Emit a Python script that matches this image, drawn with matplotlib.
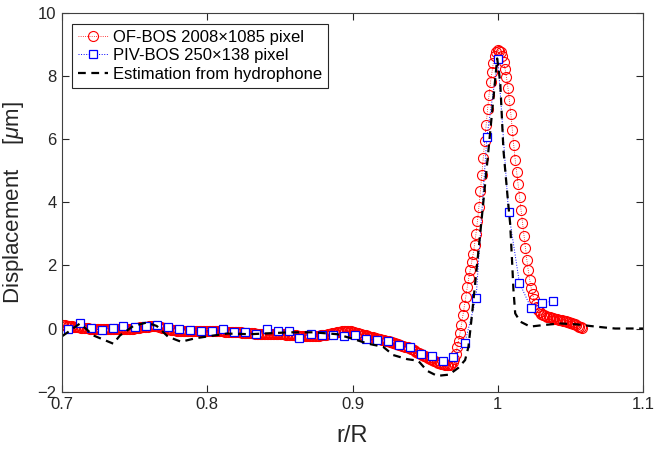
import numpy as np
import matplotlib
matplotlib.use('Agg')
from matplotlib import pyplot as plt

plt.rcParams['font.family'] = ['Liberation Sans', 'DejaVu Sans']
plt.rcParams['mathtext.fontset'] = 'custom'
plt.rcParams['mathtext.rm'] = 'Liberation Sans'
plt.rcParams['mathtext.it'] = 'Liberation Sans:italic'

# OF-BOS (2008x1085 px), sampled every 0.001 in r/R from 0.700 to 1.058
of_r = np.round(np.arange(0.700, 1.0585, 0.001), 3)
of_disp = [
    0.11, 0.10, 0.10, 0.09, 0.09, 0.08, 0.08, 0.07, 0.06, 0.05,
    0.05, 0.04, 0.04, 0.03, 0.03, 0.02, 0.02, 0.01, 0.01, 0.00,
    0.00, 0.00, -0.01, -0.01, -0.01, -0.01, -0.02, -0.02, -0.02, -0.02,
    -0.02, -0.03, -0.03, -0.03, -0.03, -0.03, -0.03, -0.03, -0.03, -0.03,
    -0.03, -0.03, -0.02, -0.02, -0.02, -0.02, -0.01, -0.01, 0.00, 0.00,
    0.01, 0.02, 0.02, 0.03, 0.04, 0.04, 0.05, 0.05, 0.06, 0.06,
    0.07, 0.07, 0.08, 0.08, 0.08, 0.08, 0.07, 0.06, 0.05, 0.03,
    0.02, 0.01, -0.01, -0.02, -0.03, -0.04, -0.05, -0.06, -0.06, -0.07,
    -0.07, -0.07, -0.07, -0.07, -0.07, -0.07, -0.07, -0.07, -0.07, -0.07,
    -0.07, -0.07, -0.07, -0.07, -0.08, -0.08, -0.08, -0.08, -0.08, -0.08,
    -0.08, -0.08, -0.08, -0.09, -0.09, -0.09, -0.09, -0.09, -0.09, -0.09,
    -0.09, -0.09, -0.10, -0.10, -0.10, -0.10, -0.10, -0.11, -0.11, -0.11,
    -0.11, -0.11, -0.12, -0.12, -0.13, -0.13, -0.13, -0.14, -0.14, -0.15,
    -0.15, -0.15, -0.15, -0.16, -0.16, -0.16, -0.16, -0.17, -0.17, -0.17,
    -0.17, -0.17, -0.17, -0.17, -0.17, -0.17, -0.17, -0.17, -0.17, -0.17,
    -0.17, -0.17, -0.18, -0.18, -0.19, -0.19, -0.20, -0.20, -0.21, -0.21,
    -0.22, -0.22, -0.23, -0.23, -0.24, -0.24, -0.24, -0.25, -0.25, -0.25,
    -0.25, -0.25, -0.25, -0.24, -0.24, -0.24, -0.23, -0.23, -0.22, -0.22,
    -0.21, -0.20, -0.19, -0.18, -0.17, -0.16, -0.15, -0.14, -0.13, -0.12,
    -0.12, -0.11, -0.10, -0.09, -0.08, -0.08, -0.07, -0.07, -0.08, -0.09,
    -0.10, -0.11, -0.13, -0.14, -0.15, -0.17, -0.18, -0.20, -0.21, -0.22,
    -0.24, -0.25, -0.26, -0.27, -0.28, -0.29, -0.30, -0.32, -0.33, -0.34,
    -0.35, -0.36, -0.37, -0.38, -0.40, -0.41, -0.42, -0.44, -0.45, -0.47,
    -0.48, -0.49, -0.51, -0.52, -0.54, -0.55, -0.57, -0.59, -0.60, -0.62,
    -0.64, -0.66, -0.69, -0.71, -0.74, -0.76, -0.78, -0.81, -0.83, -0.86,
    -0.88, -0.90, -0.93, -0.95, -0.98, -1.00, -1.02, -1.04, -1.06, -1.08,
    -1.10, -1.11, -1.12, -1.13, -1.14, -1.15, -1.15, -1.14, -1.12, -1.05,
    -0.95, -0.80, -0.60, -0.38, -0.15, 0.12, 0.42, 0.70, 1.00, 1.30,
    1.60, 1.85, 2.10, 2.35, 2.65, 3.00, 3.40, 3.85, 4.35, 4.85,
    5.40, 5.95, 6.45, 6.95, 7.40, 7.80, 8.12, 8.42, 8.63, 8.77,
    8.82, 8.80, 8.74, 8.62, 8.45, 8.22, 7.95, 7.62, 7.22, 6.80,
    6.30, 5.80, 5.35, 4.95, 4.57, 4.17, 3.75, 3.33, 2.92, 2.55,
    2.18, 1.84, 1.54, 1.28, 1.08, 0.92, 0.78, 0.67, 0.58, 0.52,
    0.47, 0.44, 0.42, 0.40, 0.38, 0.36, 0.35, 0.33, 0.32, 0.31,
    0.30, 0.29, 0.28, 0.27, 0.26, 0.25, 0.24, 0.23, 0.22, 0.21,
    0.19, 0.17, 0.15, 0.13, 0.11, 0.09, 0.06, 0.04, 0.01,
]

# PIV-BOS (250x138 px)
piv_r = [0.7043, 0.7124, 0.7198, 0.7273, 0.7349, 0.7422, 0.7501, 0.7576, 0.7652, 0.7728,
         0.7804, 0.7879, 0.7955, 0.8031, 0.8107, 0.8183, 0.8260, 0.8334, 0.8410, 0.8486,
         0.8561, 0.8634, 0.8713, 0.8789, 0.8864, 0.8940, 0.9016, 0.9092, 0.9167, 0.9243,
         0.9319, 0.9395, 0.9470, 0.9548, 0.9626, 0.9695, 0.9773, 0.9851, 0.9925, 1.0001,
         1.0074, 1.0149, 1.0228, 1.0304, 1.0377]
piv_disp = [0.00, 0.16, 0.01, -0.05, 0.03, 0.07, 0.04, 0.07, 0.10, 0.05,
            0.00, -0.05, -0.07, -0.07, -0.03, -0.12, -0.12, -0.18, -0.03, -0.07,
            -0.07, -0.30, -0.16, -0.21, -0.21, -0.23, -0.21, -0.33, -0.36, -0.41,
            -0.53, -0.60, -0.82, -0.88, -1.04, -0.91, -0.46, 0.97, 6.07, 8.52,
            3.70, 1.45, 0.66, 0.80, 0.87]

# estimation from hydrophone
hyd_r = [0.7002, 0.7124, 0.7216, 0.7353, 0.7399, 0.7491, 0.7583, 0.7652, 0.7730, 0.7820,
         0.7916, 0.8019, 0.8136, 0.8295, 0.8432, 0.8570, 0.8729, 0.8894, 0.8983, 0.9107,
         0.9211, 0.9280, 0.9376, 0.9452, 0.9514, 0.9583, 0.9665, 0.9727, 0.9775, 0.9798,
         0.9821, 0.9879, 0.9936, 0.9996, 1.0017, 1.0039, 1.0067, 1.0085, 1.0097, 1.0108,
         1.0120, 1.0154, 1.0223, 1.0315, 1.0430, 1.0547, 1.0636, 1.0740, 1.0808, 1.1000]
hyd_disp = [-0.24, 0.16, -0.22, -0.48, -0.22, 0.08, 0.19, 0.08, -0.26, -0.42,
            -0.31, -0.24, -0.16, -0.18, -0.15, -0.12, -0.12, -0.18, -0.30, -0.48,
            -0.58, -0.84, -0.97, -1.02, -1.34, -1.50, -1.46, -1.25, -1.00, -0.58,
            0.37, 3.00, 5.65, 8.55, 7.80, 5.65, 4.20, 3.33, 2.27, 1.22,
            0.48, 0.22, 0.06, 0.11, 0.16, 0.13, 0.08, 0.03, 0.00, 0.00]

xticks = [0.7, 0.8, 0.9, 1.0, 1.1]
xtick_labels = ['0.7', '0.8', '0.9', '1', '1.1']
yticks = [-2, 0, 2, 4, 6, 8, 10]

fig = plt.figure(figsize=(6.64, 4.5), dpi=100)
ax = fig.add_axes([0.0934, 0.1296, 0.875, 0.8422])

ax.plot(of_r, of_disp, ls=':', lw=0.6, c='red', marker='o', ms=7.2,
        mfc='none', mec='red', mew=0.8, label='OF-BOS 2008\u00d71085 pixel')
ax.plot(piv_r, piv_disp, ls=':', lw=0.7, c='blue', marker='s', ms=5.6,
        mfc='white', mec='blue', mew=0.9, label='PIV-BOS 250\u00d7138 pixel')
ax.plot(hyd_r, hyd_disp, ls=(0, (3.5, 2.5)), lw=1.6, c='black',
        label='Estimation from hydrophone')

ax.set_xlim(0.7, 1.1)
ax.set_ylim(-2, 10)
ax.set_xticks(xticks)
ax.set_xticklabels(xtick_labels)
ax.set_yticks(yticks)
ax.tick_params(direction='in', top=True, right=True, length=5, width=0.8,
               labelsize=12, colors='#262626', pad=4)
for s in ax.spines.values():
    s.set_color('#404040')
    s.set_linewidth(0.8)

ax.set_xlabel('r/R', fontsize=17, color='#262626', labelpad=9)
ax.set_ylabel('Displacement    [$\\mu$m]', fontsize=16, color='#262626', labelpad=8)

leg = ax.legend(loc='upper left', bbox_to_anchor=(0.0172, 0.971), borderaxespad=0,
                fontsize=12, fancybox=False, framealpha=1, edgecolor='#262626',
                labelspacing=0.22, handlelength=1.8, handletextpad=0.3,
                borderpad=0.35, numpoints=1)
leg.get_frame().set_linewidth(0.8)

fig.savefig('out.png', dpi=100, facecolor='white')
